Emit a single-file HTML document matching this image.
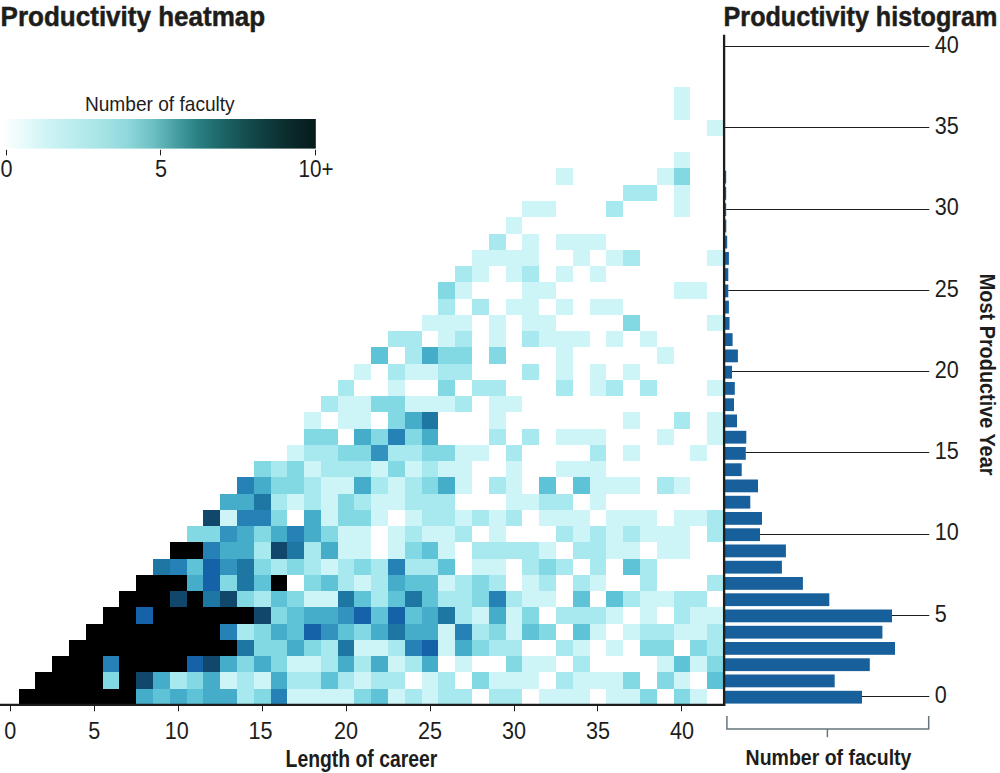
<!DOCTYPE html>
<html lang="en"><head><meta charset="utf-8"><title>Productivity heatmap</title>
<style>
html,body{margin:0;padding:0;background:#fff;}
body{width:1000px;height:773px;overflow:hidden;}
svg{display:block;}
text{font-family:"Liberation Sans",Arial,Helvetica,sans-serif;fill:#1d1d1b;}
.b{font-weight:bold;stroke:#1d1d1b;stroke-width:0.5px;}.c{font-weight:bold;}
.t{font-size:24px;fill:#2a2a2a;}
</style></head><body>
<svg width="1000" height="773" viewBox="0 0 1000 773">
<defs><linearGradient id="cb" x1="0" y1="0" x2="1" y2="0">
<stop offset="0" stop-color="#ffffff"/>
<stop offset="0.05" stop-color="#eefcfc"/>
<stop offset="0.15" stop-color="#cdf3f4"/>
<stop offset="0.3" stop-color="#aae6e8"/>
<stop offset="0.4" stop-color="#8fd8db"/>
<stop offset="0.48" stop-color="#6dc0c3"/>
<stop offset="0.55" stop-color="#4aa1a5"/>
<stop offset="0.62" stop-color="#2b8184"/>
<stop offset="0.7" stop-color="#1c6668"/>
<stop offset="0.8" stop-color="#124749"/>
<stop offset="0.9" stop-color="#0b2e2f"/>
<stop offset="1" stop-color="#061a1b"/>
</linearGradient></defs>
<rect width="1000" height="773" fill="#fff"/>
<g shape-rendering="crispEdges">
<rect x="19" y="689" width="117" height="16" fill="#000000"/>
<rect x="136" y="689" width="17" height="16" fill="#45adc9"/>
<rect x="153" y="689" width="17" height="16" fill="#5ec3d6"/>
<rect x="170" y="689" width="17" height="16" fill="#45adc9"/>
<rect x="187" y="689" width="16" height="16" fill="#5ec3d6"/>
<rect x="203" y="689" width="34" height="16" fill="#45adc9"/>
<rect x="237" y="689" width="17" height="16" fill="#a8e9ef"/>
<rect x="254" y="689" width="17" height="16" fill="#82d8e3"/>
<rect x="271" y="689" width="16" height="16" fill="#2682b6"/>
<rect x="287" y="689" width="67" height="16" fill="#cdf4f7"/>
<rect x="354" y="689" width="17" height="16" fill="#82d8e3"/>
<rect x="371" y="689" width="17" height="16" fill="#5ec3d6"/>
<rect x="388" y="689" width="17" height="16" fill="#cdf4f7"/>
<rect x="405" y="689" width="17" height="16" fill="#a8e9ef"/>
<rect x="422" y="689" width="16" height="16" fill="#cdf4f7"/>
<rect x="438" y="689" width="34" height="16" fill="#a8e9ef"/>
<rect x="489" y="689" width="33" height="16" fill="#a8e9ef"/>
<rect x="539" y="689" width="51" height="16" fill="#cdf4f7"/>
<rect x="606" y="689" width="34" height="16" fill="#cdf4f7"/>
<rect x="640" y="689" width="17" height="16" fill="#82d8e3"/>
<rect x="674" y="689" width="16" height="16" fill="#82d8e3"/>
<rect x="690" y="689" width="17" height="16" fill="#cdf4f7"/>
<rect x="35" y="672" width="68" height="17" fill="#000000"/>
<rect x="103" y="672" width="16" height="17" fill="#82d8e3"/>
<rect x="119" y="672" width="17" height="17" fill="#000000"/>
<rect x="136" y="672" width="17" height="17" fill="#10476b"/>
<rect x="153" y="672" width="17" height="17" fill="#45adc9"/>
<rect x="170" y="672" width="17" height="17" fill="#a8e9ef"/>
<rect x="187" y="672" width="16" height="17" fill="#82d8e3"/>
<rect x="203" y="672" width="17" height="17" fill="#45adc9"/>
<rect x="220" y="672" width="17" height="17" fill="#cdf4f7"/>
<rect x="237" y="672" width="17" height="17" fill="#a8e9ef"/>
<rect x="254" y="672" width="17" height="17" fill="#cdf4f7"/>
<rect x="271" y="672" width="16" height="17" fill="#45adc9"/>
<rect x="287" y="672" width="34" height="17" fill="#a8e9ef"/>
<rect x="321" y="672" width="17" height="17" fill="#5ec3d6"/>
<rect x="338" y="672" width="16" height="17" fill="#a8e9ef"/>
<rect x="354" y="672" width="17" height="17" fill="#cdf4f7"/>
<rect x="371" y="672" width="34" height="17" fill="#a8e9ef"/>
<rect x="422" y="672" width="16" height="17" fill="#cdf4f7"/>
<rect x="438" y="672" width="17" height="17" fill="#a8e9ef"/>
<rect x="472" y="672" width="17" height="17" fill="#82d8e3"/>
<rect x="489" y="672" width="50" height="17" fill="#cdf4f7"/>
<rect x="556" y="672" width="17" height="17" fill="#a8e9ef"/>
<rect x="573" y="672" width="50" height="17" fill="#cdf4f7"/>
<rect x="623" y="672" width="17" height="17" fill="#82d8e3"/>
<rect x="657" y="672" width="17" height="17" fill="#82d8e3"/>
<rect x="674" y="672" width="16" height="17" fill="#cdf4f7"/>
<rect x="707" y="672" width="17" height="17" fill="#5ec3d6"/>
<rect x="52" y="656" width="51" height="16" fill="#000000"/>
<rect x="103" y="656" width="16" height="16" fill="#2682b6"/>
<rect x="119" y="656" width="68" height="16" fill="#000000"/>
<rect x="187" y="656" width="16" height="16" fill="#1662a8"/>
<rect x="203" y="656" width="17" height="16" fill="#10476b"/>
<rect x="220" y="656" width="17" height="16" fill="#45adc9"/>
<rect x="237" y="656" width="17" height="16" fill="#82d8e3"/>
<rect x="254" y="656" width="17" height="16" fill="#45adc9"/>
<rect x="271" y="656" width="16" height="16" fill="#82d8e3"/>
<rect x="287" y="656" width="34" height="16" fill="#cdf4f7"/>
<rect x="321" y="656" width="17" height="16" fill="#a8e9ef"/>
<rect x="338" y="656" width="16" height="16" fill="#45adc9"/>
<rect x="354" y="656" width="17" height="16" fill="#a8e9ef"/>
<rect x="371" y="656" width="17" height="16" fill="#45adc9"/>
<rect x="388" y="656" width="17" height="16" fill="#cdf4f7"/>
<rect x="405" y="656" width="17" height="16" fill="#a8e9ef"/>
<rect x="422" y="656" width="16" height="16" fill="#45adc9"/>
<rect x="455" y="656" width="17" height="16" fill="#cdf4f7"/>
<rect x="506" y="656" width="16" height="16" fill="#82d8e3"/>
<rect x="522" y="656" width="34" height="16" fill="#cdf4f7"/>
<rect x="573" y="656" width="17" height="16" fill="#a8e9ef"/>
<rect x="657" y="656" width="17" height="16" fill="#cdf4f7"/>
<rect x="674" y="656" width="16" height="16" fill="#5ec3d6"/>
<rect x="690" y="656" width="17" height="16" fill="#cdf4f7"/>
<rect x="707" y="656" width="17" height="16" fill="#82d8e3"/>
<rect x="69" y="640" width="168" height="16" fill="#000000"/>
<rect x="237" y="640" width="17" height="16" fill="#1e77a3"/>
<rect x="254" y="640" width="33" height="16" fill="#82d8e3"/>
<rect x="287" y="640" width="17" height="16" fill="#45adc9"/>
<rect x="304" y="640" width="17" height="16" fill="#82d8e3"/>
<rect x="321" y="640" width="17" height="16" fill="#a8e9ef"/>
<rect x="338" y="640" width="16" height="16" fill="#1e77a3"/>
<rect x="354" y="640" width="34" height="16" fill="#cdf4f7"/>
<rect x="388" y="640" width="17" height="16" fill="#a8e9ef"/>
<rect x="405" y="640" width="17" height="16" fill="#2682b6"/>
<rect x="422" y="640" width="16" height="16" fill="#1662a8"/>
<rect x="438" y="640" width="17" height="16" fill="#cdf4f7"/>
<rect x="455" y="640" width="17" height="16" fill="#45adc9"/>
<rect x="472" y="640" width="17" height="16" fill="#82d8e3"/>
<rect x="489" y="640" width="33" height="16" fill="#a8e9ef"/>
<rect x="556" y="640" width="17" height="16" fill="#a8e9ef"/>
<rect x="573" y="640" width="17" height="16" fill="#cdf4f7"/>
<rect x="606" y="640" width="17" height="16" fill="#cdf4f7"/>
<rect x="640" y="640" width="34" height="16" fill="#82d8e3"/>
<rect x="690" y="640" width="17" height="16" fill="#82d8e3"/>
<rect x="707" y="640" width="17" height="16" fill="#a8e9ef"/>
<rect x="86" y="624" width="134" height="16" fill="#000000"/>
<rect x="220" y="624" width="17" height="16" fill="#2682b6"/>
<rect x="237" y="624" width="17" height="16" fill="#a8e9ef"/>
<rect x="254" y="624" width="17" height="16" fill="#82d8e3"/>
<rect x="271" y="624" width="16" height="16" fill="#45adc9"/>
<rect x="287" y="624" width="17" height="16" fill="#5ec3d6"/>
<rect x="304" y="624" width="17" height="16" fill="#1662a8"/>
<rect x="321" y="624" width="17" height="16" fill="#3293be"/>
<rect x="338" y="624" width="16" height="16" fill="#5ec3d6"/>
<rect x="354" y="624" width="17" height="16" fill="#82d8e3"/>
<rect x="371" y="624" width="17" height="16" fill="#45adc9"/>
<rect x="388" y="624" width="17" height="16" fill="#1e77a3"/>
<rect x="405" y="624" width="33" height="16" fill="#45adc9"/>
<rect x="438" y="624" width="17" height="16" fill="#cdf4f7"/>
<rect x="455" y="624" width="17" height="16" fill="#2682b6"/>
<rect x="472" y="624" width="17" height="16" fill="#a8e9ef"/>
<rect x="489" y="624" width="17" height="16" fill="#82d8e3"/>
<rect x="506" y="624" width="16" height="16" fill="#cdf4f7"/>
<rect x="522" y="624" width="17" height="16" fill="#5ec3d6"/>
<rect x="539" y="624" width="17" height="16" fill="#82d8e3"/>
<rect x="573" y="624" width="17" height="16" fill="#5ec3d6"/>
<rect x="590" y="624" width="16" height="16" fill="#cdf4f7"/>
<rect x="623" y="624" width="17" height="16" fill="#cdf4f7"/>
<rect x="640" y="624" width="34" height="16" fill="#a8e9ef"/>
<rect x="674" y="624" width="33" height="16" fill="#cdf4f7"/>
<rect x="707" y="624" width="17" height="16" fill="#a8e9ef"/>
<rect x="103" y="607" width="33" height="17" fill="#000000"/>
<rect x="136" y="607" width="17" height="17" fill="#1662a8"/>
<rect x="153" y="607" width="101" height="17" fill="#000000"/>
<rect x="254" y="607" width="17" height="17" fill="#10476b"/>
<rect x="271" y="607" width="16" height="17" fill="#82d8e3"/>
<rect x="287" y="607" width="17" height="17" fill="#5ec3d6"/>
<rect x="304" y="607" width="34" height="17" fill="#45adc9"/>
<rect x="338" y="607" width="16" height="17" fill="#3293be"/>
<rect x="354" y="607" width="17" height="17" fill="#1662a8"/>
<rect x="371" y="607" width="17" height="17" fill="#5ec3d6"/>
<rect x="388" y="607" width="17" height="17" fill="#1662a8"/>
<rect x="405" y="607" width="17" height="17" fill="#5ec3d6"/>
<rect x="422" y="607" width="16" height="17" fill="#45adc9"/>
<rect x="438" y="607" width="17" height="17" fill="#1e77a3"/>
<rect x="455" y="607" width="17" height="17" fill="#a8e9ef"/>
<rect x="472" y="607" width="17" height="17" fill="#cdf4f7"/>
<rect x="489" y="607" width="17" height="17" fill="#45adc9"/>
<rect x="506" y="607" width="16" height="17" fill="#cdf4f7"/>
<rect x="522" y="607" width="17" height="17" fill="#82d8e3"/>
<rect x="556" y="607" width="50" height="17" fill="#a8e9ef"/>
<rect x="606" y="607" width="17" height="17" fill="#cdf4f7"/>
<rect x="640" y="607" width="17" height="17" fill="#cdf4f7"/>
<rect x="674" y="607" width="16" height="17" fill="#a8e9ef"/>
<rect x="690" y="607" width="34" height="17" fill="#cdf4f7"/>
<rect x="119" y="591" width="51" height="16" fill="#000000"/>
<rect x="170" y="591" width="17" height="16" fill="#10476b"/>
<rect x="187" y="591" width="16" height="16" fill="#000000"/>
<rect x="203" y="591" width="17" height="16" fill="#1e77a3"/>
<rect x="220" y="591" width="17" height="16" fill="#10476b"/>
<rect x="237" y="591" width="17" height="16" fill="#82d8e3"/>
<rect x="254" y="591" width="17" height="16" fill="#a8e9ef"/>
<rect x="271" y="591" width="16" height="16" fill="#5ec3d6"/>
<rect x="287" y="591" width="17" height="16" fill="#82d8e3"/>
<rect x="304" y="591" width="34" height="16" fill="#cdf4f7"/>
<rect x="338" y="591" width="16" height="16" fill="#1e77a3"/>
<rect x="354" y="591" width="17" height="16" fill="#5ec3d6"/>
<rect x="371" y="591" width="17" height="16" fill="#a8e9ef"/>
<rect x="388" y="591" width="17" height="16" fill="#5ec3d6"/>
<rect x="405" y="591" width="17" height="16" fill="#1e77a3"/>
<rect x="422" y="591" width="16" height="16" fill="#5ec3d6"/>
<rect x="438" y="591" width="34" height="16" fill="#a8e9ef"/>
<rect x="472" y="591" width="17" height="16" fill="#82d8e3"/>
<rect x="489" y="591" width="17" height="16" fill="#2682b6"/>
<rect x="506" y="591" width="16" height="16" fill="#a8e9ef"/>
<rect x="522" y="591" width="34" height="16" fill="#cdf4f7"/>
<rect x="573" y="591" width="17" height="16" fill="#5ec3d6"/>
<rect x="606" y="591" width="17" height="16" fill="#5ec3d6"/>
<rect x="623" y="591" width="17" height="16" fill="#a8e9ef"/>
<rect x="640" y="591" width="34" height="16" fill="#cdf4f7"/>
<rect x="674" y="591" width="33" height="16" fill="#a8e9ef"/>
<rect x="136" y="575" width="51" height="16" fill="#000000"/>
<rect x="187" y="575" width="16" height="16" fill="#45adc9"/>
<rect x="203" y="575" width="17" height="16" fill="#1662a8"/>
<rect x="220" y="575" width="17" height="16" fill="#82d8e3"/>
<rect x="237" y="575" width="17" height="16" fill="#1e77a3"/>
<rect x="254" y="575" width="17" height="16" fill="#5ec3d6"/>
<rect x="271" y="575" width="16" height="16" fill="#000000"/>
<rect x="304" y="575" width="17" height="16" fill="#82d8e3"/>
<rect x="321" y="575" width="17" height="16" fill="#5ec3d6"/>
<rect x="338" y="575" width="16" height="16" fill="#a8e9ef"/>
<rect x="354" y="575" width="17" height="16" fill="#cdf4f7"/>
<rect x="371" y="575" width="17" height="16" fill="#a8e9ef"/>
<rect x="388" y="575" width="17" height="16" fill="#45adc9"/>
<rect x="405" y="575" width="33" height="16" fill="#5ec3d6"/>
<rect x="438" y="575" width="17" height="16" fill="#cdf4f7"/>
<rect x="455" y="575" width="17" height="16" fill="#a8e9ef"/>
<rect x="472" y="575" width="17" height="16" fill="#82d8e3"/>
<rect x="489" y="575" width="17" height="16" fill="#a8e9ef"/>
<rect x="522" y="575" width="17" height="16" fill="#cdf4f7"/>
<rect x="539" y="575" width="17" height="16" fill="#a8e9ef"/>
<rect x="573" y="575" width="17" height="16" fill="#a8e9ef"/>
<rect x="590" y="575" width="16" height="16" fill="#cdf4f7"/>
<rect x="640" y="575" width="17" height="16" fill="#a8e9ef"/>
<rect x="707" y="575" width="17" height="16" fill="#a8e9ef"/>
<rect x="153" y="559" width="17" height="16" fill="#1e77a3"/>
<rect x="170" y="559" width="17" height="16" fill="#2682b6"/>
<rect x="187" y="559" width="16" height="16" fill="#5ec3d6"/>
<rect x="203" y="559" width="17" height="16" fill="#1662a8"/>
<rect x="220" y="559" width="17" height="16" fill="#3293be"/>
<rect x="237" y="559" width="17" height="16" fill="#1e77a3"/>
<rect x="254" y="559" width="17" height="16" fill="#82d8e3"/>
<rect x="271" y="559" width="16" height="16" fill="#a8e9ef"/>
<rect x="287" y="559" width="17" height="16" fill="#82d8e3"/>
<rect x="304" y="559" width="17" height="16" fill="#a8e9ef"/>
<rect x="321" y="559" width="17" height="16" fill="#cdf4f7"/>
<rect x="338" y="559" width="16" height="16" fill="#a8e9ef"/>
<rect x="354" y="559" width="17" height="16" fill="#82d8e3"/>
<rect x="371" y="559" width="17" height="16" fill="#a8e9ef"/>
<rect x="388" y="559" width="17" height="16" fill="#2682b6"/>
<rect x="405" y="559" width="33" height="16" fill="#a8e9ef"/>
<rect x="438" y="559" width="17" height="16" fill="#5ec3d6"/>
<rect x="472" y="559" width="34" height="16" fill="#cdf4f7"/>
<rect x="522" y="559" width="17" height="16" fill="#a8e9ef"/>
<rect x="539" y="559" width="17" height="16" fill="#82d8e3"/>
<rect x="556" y="559" width="17" height="16" fill="#a8e9ef"/>
<rect x="590" y="559" width="16" height="16" fill="#a8e9ef"/>
<rect x="623" y="559" width="17" height="16" fill="#5ec3d6"/>
<rect x="640" y="559" width="17" height="16" fill="#a8e9ef"/>
<rect x="170" y="542" width="33" height="17" fill="#000000"/>
<rect x="203" y="542" width="17" height="17" fill="#2682b6"/>
<rect x="220" y="542" width="34" height="17" fill="#45adc9"/>
<rect x="254" y="542" width="17" height="17" fill="#a8e9ef"/>
<rect x="271" y="542" width="16" height="17" fill="#10476b"/>
<rect x="287" y="542" width="17" height="17" fill="#1e77a3"/>
<rect x="304" y="542" width="17" height="17" fill="#a8e9ef"/>
<rect x="321" y="542" width="17" height="17" fill="#45adc9"/>
<rect x="338" y="542" width="33" height="17" fill="#cdf4f7"/>
<rect x="388" y="542" width="17" height="17" fill="#cdf4f7"/>
<rect x="405" y="542" width="17" height="17" fill="#82d8e3"/>
<rect x="422" y="542" width="16" height="17" fill="#5ec3d6"/>
<rect x="438" y="542" width="17" height="17" fill="#cdf4f7"/>
<rect x="472" y="542" width="67" height="17" fill="#a8e9ef"/>
<rect x="539" y="542" width="17" height="17" fill="#cdf4f7"/>
<rect x="573" y="542" width="33" height="17" fill="#a8e9ef"/>
<rect x="606" y="542" width="34" height="17" fill="#cdf4f7"/>
<rect x="657" y="542" width="33" height="17" fill="#cdf4f7"/>
<rect x="187" y="526" width="33" height="16" fill="#82d8e3"/>
<rect x="220" y="526" width="17" height="16" fill="#3293be"/>
<rect x="237" y="526" width="17" height="16" fill="#45adc9"/>
<rect x="254" y="526" width="17" height="16" fill="#82d8e3"/>
<rect x="271" y="526" width="16" height="16" fill="#45adc9"/>
<rect x="287" y="526" width="17" height="16" fill="#2682b6"/>
<rect x="304" y="526" width="17" height="16" fill="#45adc9"/>
<rect x="321" y="526" width="17" height="16" fill="#82d8e3"/>
<rect x="338" y="526" width="33" height="16" fill="#cdf4f7"/>
<rect x="388" y="526" width="17" height="16" fill="#cdf4f7"/>
<rect x="405" y="526" width="17" height="16" fill="#a8e9ef"/>
<rect x="422" y="526" width="33" height="16" fill="#cdf4f7"/>
<rect x="455" y="526" width="17" height="16" fill="#a8e9ef"/>
<rect x="489" y="526" width="17" height="16" fill="#cdf4f7"/>
<rect x="556" y="526" width="17" height="16" fill="#a8e9ef"/>
<rect x="573" y="526" width="17" height="16" fill="#cdf4f7"/>
<rect x="590" y="526" width="16" height="16" fill="#a8e9ef"/>
<rect x="606" y="526" width="17" height="16" fill="#cdf4f7"/>
<rect x="623" y="526" width="17" height="16" fill="#a8e9ef"/>
<rect x="640" y="526" width="50" height="16" fill="#cdf4f7"/>
<rect x="707" y="526" width="17" height="16" fill="#a8e9ef"/>
<rect x="203" y="510" width="17" height="16" fill="#10476b"/>
<rect x="220" y="510" width="17" height="16" fill="#cdf4f7"/>
<rect x="237" y="510" width="34" height="16" fill="#2682b6"/>
<rect x="271" y="510" width="16" height="16" fill="#82d8e3"/>
<rect x="304" y="510" width="17" height="16" fill="#45adc9"/>
<rect x="321" y="510" width="17" height="16" fill="#cdf4f7"/>
<rect x="338" y="510" width="33" height="16" fill="#82d8e3"/>
<rect x="371" y="510" width="17" height="16" fill="#cdf4f7"/>
<rect x="405" y="510" width="17" height="16" fill="#cdf4f7"/>
<rect x="422" y="510" width="33" height="16" fill="#a8e9ef"/>
<rect x="455" y="510" width="17" height="16" fill="#cdf4f7"/>
<rect x="472" y="510" width="17" height="16" fill="#a8e9ef"/>
<rect x="489" y="510" width="17" height="16" fill="#cdf4f7"/>
<rect x="506" y="510" width="16" height="16" fill="#a8e9ef"/>
<rect x="539" y="510" width="51" height="16" fill="#cdf4f7"/>
<rect x="606" y="510" width="51" height="16" fill="#cdf4f7"/>
<rect x="674" y="510" width="33" height="16" fill="#cdf4f7"/>
<rect x="707" y="510" width="17" height="16" fill="#a8e9ef"/>
<rect x="220" y="494" width="34" height="16" fill="#45adc9"/>
<rect x="254" y="494" width="17" height="16" fill="#1e77a3"/>
<rect x="271" y="494" width="16" height="16" fill="#a8e9ef"/>
<rect x="287" y="494" width="17" height="16" fill="#cdf4f7"/>
<rect x="304" y="494" width="17" height="16" fill="#a8e9ef"/>
<rect x="321" y="494" width="17" height="16" fill="#cdf4f7"/>
<rect x="338" y="494" width="16" height="16" fill="#82d8e3"/>
<rect x="354" y="494" width="17" height="16" fill="#a8e9ef"/>
<rect x="371" y="494" width="34" height="16" fill="#cdf4f7"/>
<rect x="405" y="494" width="50" height="16" fill="#a8e9ef"/>
<rect x="506" y="494" width="33" height="16" fill="#cdf4f7"/>
<rect x="539" y="494" width="34" height="16" fill="#a8e9ef"/>
<rect x="590" y="494" width="16" height="16" fill="#cdf4f7"/>
<rect x="237" y="477" width="17" height="17" fill="#2682b6"/>
<rect x="254" y="477" width="17" height="17" fill="#45adc9"/>
<rect x="271" y="477" width="33" height="17" fill="#82d8e3"/>
<rect x="304" y="477" width="17" height="17" fill="#a8e9ef"/>
<rect x="321" y="477" width="33" height="17" fill="#cdf4f7"/>
<rect x="354" y="477" width="17" height="17" fill="#45adc9"/>
<rect x="371" y="477" width="17" height="17" fill="#a8e9ef"/>
<rect x="388" y="477" width="17" height="17" fill="#cdf4f7"/>
<rect x="405" y="477" width="17" height="17" fill="#a8e9ef"/>
<rect x="422" y="477" width="16" height="17" fill="#82d8e3"/>
<rect x="438" y="477" width="17" height="17" fill="#45adc9"/>
<rect x="455" y="477" width="17" height="17" fill="#cdf4f7"/>
<rect x="489" y="477" width="17" height="17" fill="#a8e9ef"/>
<rect x="506" y="477" width="16" height="17" fill="#cdf4f7"/>
<rect x="539" y="477" width="17" height="17" fill="#5ec3d6"/>
<rect x="573" y="477" width="17" height="17" fill="#5ec3d6"/>
<rect x="590" y="477" width="50" height="17" fill="#cdf4f7"/>
<rect x="657" y="477" width="17" height="17" fill="#a8e9ef"/>
<rect x="674" y="477" width="16" height="17" fill="#cdf4f7"/>
<rect x="254" y="461" width="17" height="16" fill="#82d8e3"/>
<rect x="271" y="461" width="16" height="16" fill="#a8e9ef"/>
<rect x="287" y="461" width="17" height="16" fill="#82d8e3"/>
<rect x="304" y="461" width="17" height="16" fill="#cdf4f7"/>
<rect x="321" y="461" width="50" height="16" fill="#a8e9ef"/>
<rect x="371" y="461" width="17" height="16" fill="#cdf4f7"/>
<rect x="388" y="461" width="17" height="16" fill="#82d8e3"/>
<rect x="405" y="461" width="17" height="16" fill="#cdf4f7"/>
<rect x="422" y="461" width="16" height="16" fill="#a8e9ef"/>
<rect x="438" y="461" width="34" height="16" fill="#cdf4f7"/>
<rect x="506" y="461" width="16" height="16" fill="#cdf4f7"/>
<rect x="556" y="461" width="50" height="16" fill="#cdf4f7"/>
<rect x="287" y="445" width="17" height="16" fill="#cdf4f7"/>
<rect x="304" y="445" width="34" height="16" fill="#a8e9ef"/>
<rect x="338" y="445" width="33" height="16" fill="#82d8e3"/>
<rect x="371" y="445" width="17" height="16" fill="#3293be"/>
<rect x="388" y="445" width="34" height="16" fill="#a8e9ef"/>
<rect x="422" y="445" width="33" height="16" fill="#82d8e3"/>
<rect x="455" y="445" width="34" height="16" fill="#cdf4f7"/>
<rect x="506" y="445" width="16" height="16" fill="#a8e9ef"/>
<rect x="590" y="445" width="16" height="16" fill="#a8e9ef"/>
<rect x="623" y="445" width="17" height="16" fill="#cdf4f7"/>
<rect x="690" y="445" width="17" height="16" fill="#cdf4f7"/>
<rect x="304" y="429" width="34" height="16" fill="#82d8e3"/>
<rect x="354" y="429" width="17" height="16" fill="#45adc9"/>
<rect x="371" y="429" width="17" height="16" fill="#82d8e3"/>
<rect x="388" y="429" width="17" height="16" fill="#2682b6"/>
<rect x="405" y="429" width="17" height="16" fill="#82d8e3"/>
<rect x="422" y="429" width="16" height="16" fill="#45adc9"/>
<rect x="489" y="429" width="17" height="16" fill="#a8e9ef"/>
<rect x="522" y="429" width="17" height="16" fill="#a8e9ef"/>
<rect x="556" y="429" width="50" height="16" fill="#cdf4f7"/>
<rect x="657" y="429" width="17" height="16" fill="#cdf4f7"/>
<rect x="707" y="429" width="17" height="16" fill="#cdf4f7"/>
<rect x="304" y="412" width="17" height="17" fill="#cdf4f7"/>
<rect x="338" y="412" width="33" height="17" fill="#cdf4f7"/>
<rect x="388" y="412" width="17" height="17" fill="#82d8e3"/>
<rect x="405" y="412" width="17" height="17" fill="#45adc9"/>
<rect x="422" y="412" width="16" height="17" fill="#1e77a3"/>
<rect x="489" y="412" width="17" height="17" fill="#cdf4f7"/>
<rect x="623" y="412" width="17" height="17" fill="#cdf4f7"/>
<rect x="674" y="412" width="16" height="17" fill="#a8e9ef"/>
<rect x="707" y="412" width="17" height="17" fill="#cdf4f7"/>
<rect x="321" y="396" width="17" height="16" fill="#a8e9ef"/>
<rect x="338" y="396" width="33" height="16" fill="#cdf4f7"/>
<rect x="371" y="396" width="34" height="16" fill="#82d8e3"/>
<rect x="405" y="396" width="50" height="16" fill="#cdf4f7"/>
<rect x="455" y="396" width="17" height="16" fill="#a8e9ef"/>
<rect x="489" y="396" width="33" height="16" fill="#cdf4f7"/>
<rect x="338" y="380" width="16" height="16" fill="#a8e9ef"/>
<rect x="388" y="380" width="17" height="16" fill="#cdf4f7"/>
<rect x="438" y="380" width="17" height="16" fill="#82d8e3"/>
<rect x="472" y="380" width="34" height="16" fill="#a8e9ef"/>
<rect x="556" y="380" width="17" height="16" fill="#a8e9ef"/>
<rect x="590" y="380" width="16" height="16" fill="#cdf4f7"/>
<rect x="606" y="380" width="17" height="16" fill="#a8e9ef"/>
<rect x="640" y="380" width="17" height="16" fill="#a8e9ef"/>
<rect x="707" y="380" width="17" height="16" fill="#cdf4f7"/>
<rect x="354" y="364" width="17" height="16" fill="#cdf4f7"/>
<rect x="388" y="364" width="17" height="16" fill="#a8e9ef"/>
<rect x="405" y="364" width="33" height="16" fill="#cdf4f7"/>
<rect x="438" y="364" width="34" height="16" fill="#a8e9ef"/>
<rect x="522" y="364" width="17" height="16" fill="#a8e9ef"/>
<rect x="556" y="364" width="17" height="16" fill="#cdf4f7"/>
<rect x="590" y="364" width="16" height="16" fill="#cdf4f7"/>
<rect x="623" y="364" width="17" height="16" fill="#cdf4f7"/>
<rect x="371" y="347" width="17" height="17" fill="#5ec3d6"/>
<rect x="405" y="347" width="17" height="17" fill="#a8e9ef"/>
<rect x="422" y="347" width="16" height="17" fill="#45adc9"/>
<rect x="438" y="347" width="34" height="17" fill="#82d8e3"/>
<rect x="489" y="347" width="17" height="17" fill="#82d8e3"/>
<rect x="556" y="347" width="17" height="17" fill="#cdf4f7"/>
<rect x="657" y="347" width="17" height="17" fill="#cdf4f7"/>
<rect x="388" y="331" width="34" height="16" fill="#a8e9ef"/>
<rect x="438" y="331" width="17" height="16" fill="#cdf4f7"/>
<rect x="455" y="331" width="17" height="16" fill="#a8e9ef"/>
<rect x="489" y="331" width="17" height="16" fill="#cdf4f7"/>
<rect x="522" y="331" width="17" height="16" fill="#a8e9ef"/>
<rect x="539" y="331" width="51" height="16" fill="#cdf4f7"/>
<rect x="606" y="331" width="17" height="16" fill="#cdf4f7"/>
<rect x="640" y="331" width="17" height="16" fill="#cdf4f7"/>
<rect x="422" y="315" width="50" height="16" fill="#cdf4f7"/>
<rect x="489" y="315" width="17" height="16" fill="#cdf4f7"/>
<rect x="522" y="315" width="34" height="16" fill="#cdf4f7"/>
<rect x="623" y="315" width="17" height="16" fill="#82d8e3"/>
<rect x="707" y="315" width="17" height="16" fill="#cdf4f7"/>
<rect x="438" y="299" width="17" height="16" fill="#a8e9ef"/>
<rect x="472" y="299" width="17" height="16" fill="#a8e9ef"/>
<rect x="506" y="299" width="33" height="16" fill="#cdf4f7"/>
<rect x="556" y="299" width="17" height="16" fill="#cdf4f7"/>
<rect x="590" y="299" width="33" height="16" fill="#cdf4f7"/>
<rect x="438" y="282" width="17" height="17" fill="#82d8e3"/>
<rect x="455" y="282" width="17" height="17" fill="#cdf4f7"/>
<rect x="522" y="282" width="34" height="17" fill="#cdf4f7"/>
<rect x="674" y="282" width="33" height="17" fill="#cdf4f7"/>
<rect x="455" y="266" width="17" height="16" fill="#a8e9ef"/>
<rect x="472" y="266" width="17" height="16" fill="#cdf4f7"/>
<rect x="506" y="266" width="16" height="16" fill="#cdf4f7"/>
<rect x="522" y="266" width="17" height="16" fill="#a8e9ef"/>
<rect x="556" y="266" width="17" height="16" fill="#cdf4f7"/>
<rect x="590" y="266" width="16" height="16" fill="#cdf4f7"/>
<rect x="472" y="250" width="67" height="16" fill="#cdf4f7"/>
<rect x="573" y="250" width="17" height="16" fill="#cdf4f7"/>
<rect x="606" y="250" width="17" height="16" fill="#cdf4f7"/>
<rect x="623" y="250" width="17" height="16" fill="#a8e9ef"/>
<rect x="707" y="250" width="17" height="16" fill="#cdf4f7"/>
<rect x="489" y="234" width="17" height="16" fill="#a8e9ef"/>
<rect x="522" y="234" width="17" height="16" fill="#cdf4f7"/>
<rect x="556" y="234" width="50" height="16" fill="#cdf4f7"/>
<rect x="506" y="217" width="16" height="17" fill="#cdf4f7"/>
<rect x="522" y="201" width="34" height="16" fill="#cdf4f7"/>
<rect x="606" y="201" width="17" height="16" fill="#a8e9ef"/>
<rect x="674" y="201" width="16" height="16" fill="#cdf4f7"/>
<rect x="623" y="185" width="34" height="16" fill="#a8e9ef"/>
<rect x="674" y="185" width="16" height="16" fill="#cdf4f7"/>
<rect x="556" y="168" width="17" height="17" fill="#cdf4f7"/>
<rect x="657" y="168" width="17" height="17" fill="#cdf4f7"/>
<rect x="674" y="168" width="16" height="17" fill="#82d8e3"/>
<rect x="674" y="152" width="16" height="16" fill="#cdf4f7"/>
<rect x="707" y="120" width="17" height="16" fill="#cdf4f7"/>
<rect x="674" y="103" width="16" height="17" fill="#cdf4f7"/>
<rect x="674" y="87" width="16" height="16" fill="#cdf4f7"/>
</g>
<g fill="#17609c">
<rect x="725" y="690.8" width="137.0" height="12.8"/>
<rect x="725" y="674.5" width="109.7" height="12.8"/>
<rect x="725" y="658.3" width="144.8" height="12.8"/>
<rect x="725" y="642.0" width="170.0" height="12.8"/>
<rect x="725" y="625.8" width="157.4" height="12.8"/>
<rect x="725" y="609.5" width="167.0" height="12.8"/>
<rect x="725" y="593.3" width="104.3" height="12.8"/>
<rect x="725" y="577.0" width="77.9" height="12.8"/>
<rect x="725" y="560.8" width="56.9" height="12.8"/>
<rect x="725" y="544.5" width="60.9" height="12.8"/>
<rect x="725" y="528.3" width="35.0" height="12.8"/>
<rect x="725" y="512.0" width="37.0" height="12.8"/>
<rect x="725" y="495.8" width="25.3" height="12.8"/>
<rect x="725" y="479.5" width="33.0" height="12.8"/>
<rect x="725" y="463.3" width="16.7" height="12.8"/>
<rect x="725" y="447.0" width="20.8" height="12.8"/>
<rect x="725" y="430.8" width="21.3" height="12.8"/>
<rect x="725" y="414.5" width="12.0" height="12.8"/>
<rect x="725" y="398.3" width="9.0" height="12.8"/>
<rect x="725" y="382.0" width="9.8" height="12.8"/>
<rect x="725" y="365.8" width="7.0" height="12.8"/>
<rect x="725" y="349.5" width="12.9" height="12.8"/>
<rect x="725" y="333.2" width="7.6" height="12.8"/>
<rect x="725" y="317.0" width="4.5" height="12.8"/>
<rect x="725" y="300.7" width="3.9" height="12.8"/>
<rect x="725" y="284.5" width="3.3" height="12.8"/>
<rect x="725" y="268.2" width="3.3" height="12.8"/>
<rect x="725" y="252.0" width="3.9" height="12.8"/>
<rect x="725" y="235.7" width="2.2" height="12.8"/>
<rect x="725" y="219.5" width="1.3" height="12.8"/>
<rect x="725" y="203.2" width="1.2" height="12.8"/>
<rect x="725" y="187.0" width="1.2" height="12.8"/>
<rect x="725" y="170.7" width="1.2" height="12.8"/>
</g>
<g stroke="#1d1d1b" stroke-width="1" fill="none">
<line x1="862.0" y1="696.5" x2="929.3" y2="696.5"/>
<line x1="892.0" y1="615.5" x2="929.3" y2="615.5"/>
<line x1="760.0" y1="534.5" x2="929.3" y2="534.5"/>
<line x1="745.8" y1="452.5" x2="929.3" y2="452.5"/>
<line x1="732.0" y1="371.5" x2="929.3" y2="371.5"/>
<line x1="728.3" y1="290.5" x2="929.3" y2="290.5"/>
<line x1="726.2" y1="209.5" x2="929.3" y2="209.5"/>
<line x1="724.0" y1="127.5" x2="929.3" y2="127.5"/>
<line x1="724.0" y1="46.5" x2="929.3" y2="46.5"/>
</g>
<g stroke="#1d1d1b" stroke-width="2.3" fill="none">
<line x1="0" y1="704.85" x2="725.25" y2="704.85"/>
<line x1="724.1" y1="34.8" x2="724.1" y2="706"/>
</g>
<g stroke="#1d1d1b" stroke-width="1" fill="none">
<line x1="10.5" y1="705" x2="10.5" y2="711.3"/>
<line x1="94.5" y1="705" x2="94.5" y2="711.3"/>
<line x1="178.5" y1="705" x2="178.5" y2="711.3"/>
<line x1="262.5" y1="705" x2="262.5" y2="711.3"/>
<line x1="346.5" y1="705" x2="346.5" y2="711.3"/>
<line x1="430.5" y1="705" x2="430.5" y2="711.3"/>
<line x1="514.5" y1="705" x2="514.5" y2="711.3"/>
<line x1="597.5" y1="705" x2="597.5" y2="711.3"/>
<line x1="681.5" y1="705" x2="681.5" y2="711.3"/>
</g>
<g class="t" text-anchor="middle">
<text transform="translate(10.3 738.7) scale(0.9 1)">0</text>
<text transform="translate(94.2 738.7) scale(0.9 1)">5</text>
<text transform="translate(176.7 738.7) scale(0.9 1)">10</text>
<text transform="translate(260.6 738.7) scale(0.9 1)">15</text>
<text transform="translate(346.1 738.7) scale(0.9 1)">20</text>
<text transform="translate(430.1 738.7) scale(0.9 1)">25</text>
<text transform="translate(514.0 738.7) scale(0.9 1)">30</text>
<text transform="translate(597.9 738.7) scale(0.9 1)">35</text>
<text transform="translate(681.9 738.7) scale(0.9 1)">40</text>
</g>
<g class="t">
<text transform="translate(934.8 702.9) scale(0.9 1)">0</text>
<text transform="translate(934.8 621.6) scale(0.9 1)">5</text>
<text transform="translate(934.8 540.4) scale(0.9 1)">10</text>
<text transform="translate(934.8 459.1) scale(0.9 1)">15</text>
<text transform="translate(934.8 377.9) scale(0.9 1)">20</text>
<text transform="translate(934.8 296.6) scale(0.9 1)">25</text>
<text transform="translate(934.8 215.3) scale(0.9 1)">30</text>
<text transform="translate(934.8 134.1) scale(0.9 1)">35</text>
<text transform="translate(934.8 52.8) scale(0.9 1)">40</text>
</g>
<path d="M726.9 716V729.1H928.7V716M827.4 729.1V737.3" stroke="#66767c" stroke-width="1.5" fill="none"/>
<rect x="2" y="119" width="313.8" height="29.6" fill="url(#cb)"/>
<g stroke="#1d1d1b" stroke-width="1" fill="none">
<line x1="6.5" y1="149.8" x2="6.5" y2="155.4"/>
<line x1="160.5" y1="149.8" x2="160.5" y2="155.4"/>
<line x1="315.5" y1="149.8" x2="315.5" y2="155.4"/>
</g>
<g class="t">
<text transform="translate(0.4 176.7) scale(0.9 1)">0</text>
<text transform="translate(155 176.7) scale(0.9 1)">5</text>
<text transform="translate(298.6 176.7) scale(0.86 1)">10+</text>
</g>
<text x="84.9" y="110.7" font-size="21" textLength="149.8" lengthAdjust="spacingAndGlyphs">Number of faculty</text>
<text class="b" x="0.6" y="25.8" font-size="28.4" textLength="264.6" lengthAdjust="spacingAndGlyphs">Productivity heatmap</text>
<text class="b" x="723.6" y="25.6" font-size="28.4" textLength="273.8" lengthAdjust="spacingAndGlyphs">Productivity histogram</text>
<text class="c" x="285.6" y="767" font-size="23" textLength="151.8" lengthAdjust="spacingAndGlyphs">Length of career</text>
<text class="c" x="745.6" y="765" font-size="22" textLength="165.8" lengthAdjust="spacingAndGlyphs">Number of faculty</text>
<text class="c" font-size="22" textLength="201.6" lengthAdjust="spacingAndGlyphs" transform="translate(980.4 273.8) rotate(90)">Most Productive Year</text>
</svg>
</body></html>
